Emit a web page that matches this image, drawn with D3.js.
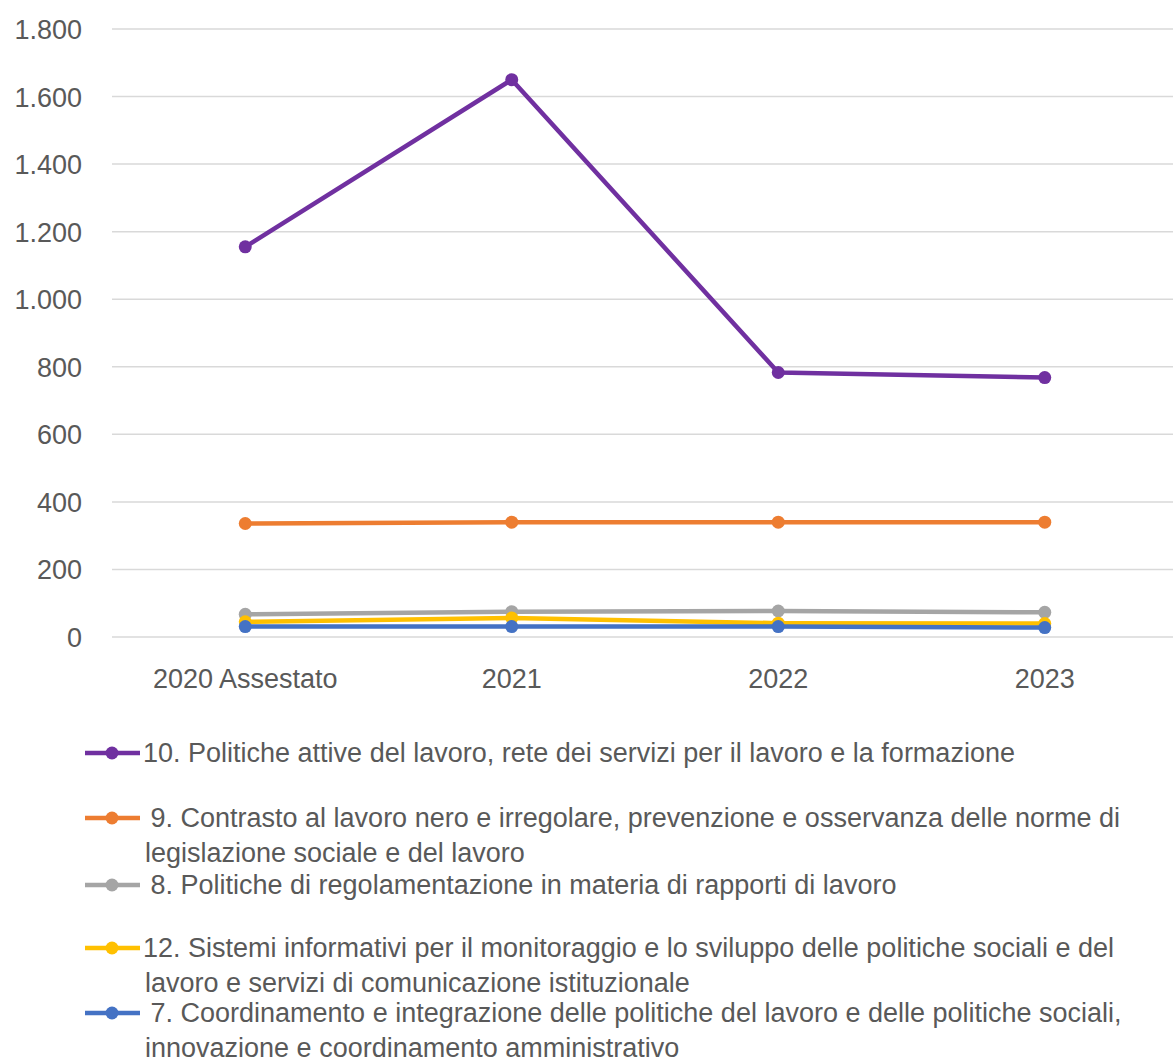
<!DOCTYPE html>
<html><head><meta charset="utf-8">
<script src="https://cdn.jsdelivr.net/npm/d3@7"></script>
<style>body{margin:0;background:#fff}svg{display:block}</style>
</head><body><svg id="c" width="1173" height="1062"></svg>
<script>
const categories = ["2020 Assestato","2021","2022","2023"];
const yTicks = [0,200,400,600,800,1000,1200,1400,1600,1800];
const s10 = [1155,1650,783,768];
const s9 = [336,340,340,340];
const s8 = [67,75,77,73];
const s12 = [45,56,41,40];
const s7 = [31,31,31,28];
const seriesNames = [
  ["10. Politiche attive del lavoro, rete dei servizi per il lavoro e la formazione"],
  [" 9. Contrasto al lavoro nero e irregolare, prevenzione e osservanza delle norme di","legislazione sociale e del lavoro"],
  [" 8. Politiche di regolamentazione in materia di rapporti di lavoro"],
  ["12. Sistemi informativi per il monitoraggio e lo sviluppo delle politiche sociali e del","lavoro e servizi di comunicazione istituzionale"],
  [" 7. Coordinamento e integrazione delle politiche del lavoro e delle politiche sociali,","innovazione e coordinamento amministrativo"]
];
const colors = ["#7030A0","#ED7D31","#A5A5A5","#FFC000","#4472C4"];
const seriesValues = [s10,s9,s8,s12,s7];

const svg = d3.select("#c");
const font = "'Liberation Sans', Arial, sans-serif";
const x = d3.scaleBand().domain(categories).range([112,1178]);
const y = d3.scaleLinear().domain([0,1800]).range([637,29]);
const fmt = d => d3.format(",")(d).replace(/,/g,".");

// grid
svg.append("g").selectAll("line").data(yTicks).join("line")
  .attr("x1",112).attr("x2",1178).attr("y1",d=>y(d)).attr("y2",d=>y(d))
  .attr("stroke","#D9D9D9").attr("stroke-width",1.5);
// y labels
svg.append("g").selectAll("text").data(yTicks).join("text")
  .attr("x",82).attr("y",d=>y(d)+10).attr("text-anchor","end")
  .attr("font-family",font).attr("font-size",27).attr("fill","#595959").text(fmt);
// x labels
svg.append("g").selectAll("text").data(categories).join("text")
  .attr("x",d=>x(d)+x.bandwidth()/2).attr("y",688).attr("text-anchor","middle")
  .attr("font-family",font).attr("font-size",27).attr("fill","#595959").text(d=>d);

const line = d3.line().x((d,i)=>x(categories[i])+x.bandwidth()/2).y(d=>y(d));
seriesValues.forEach((vals,k)=>{
  const g = svg.append("g");
  g.append("path").attr("d",line(vals)).attr("fill","none").attr("stroke",colors[k])
    .attr("stroke-width",4.5).attr("stroke-linejoin","round");
  g.selectAll("circle").data(vals).join("circle")
    .attr("cx",(d,i)=>x(categories[i])+x.bandwidth()/2).attr("cy",d=>y(d)).attr("r",6.5)
    .attr("fill",colors[k]);
});

// legend
const legY = [753,818,885,948,1013];
seriesNames.forEach((lines,k)=>{
  const g = svg.append("g");
  g.append("line").attr("x1",85).attr("x2",140).attr("y1",legY[k]).attr("y2",legY[k])
    .attr("stroke",colors[k]).attr("stroke-width",4.5);
  g.append("circle").attr("cx",112).attr("cy",legY[k]).attr("r",6.5).attr("fill",colors[k]);
  const t = g.append("text").attr("font-family",font).attr("font-size",27).attr("fill","#595959")
    .attr("xml:space","preserve");
  lines.forEach((ln,j)=>{
    t.append("tspan").attr("x", j===0?143:145).attr("y",legY[k]+9+j*35).text(ln);
  });
});
</script></body></html>
